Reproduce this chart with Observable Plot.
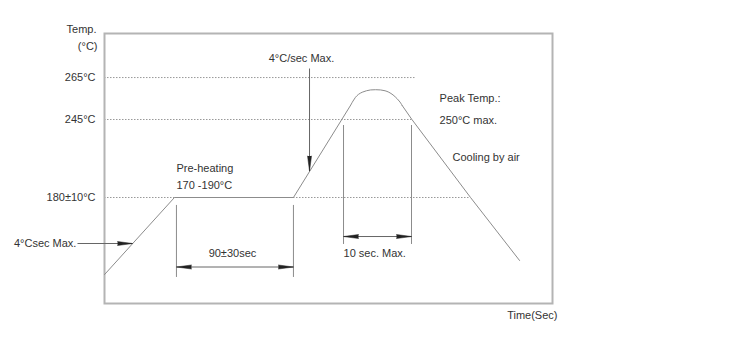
<!DOCTYPE html>
<html><head><meta charset="utf-8">
<script src="https://cdn.jsdelivr.net/npm/d3@7"></script>
<script src="https://cdn.jsdelivr.net/npm/@observablehq/plot@0.6"></script>
<style>body{margin:0;background:#fff}</style>
</head><body><div id="chart"></div>
<script>
// Reflow profile (schematic): time units and temperatures
const riseTime = [0, 53.1, 143.4, 186.7];
const riseTemp = [116, 180, 180, 251.7];
const capTime = [186.7, 188.6, 190.5, 192.8, 195.6, 198.8, 201.9, 205.7, 209.5, 212.9, 215.8, 219.0, 222.1, 224.3, 225.9];
const capTemp = [251.7, 253.8, 255.6, 257.0, 258.0, 258.7, 259.1, 259.2, 259.1, 258.7, 258.0, 256.7, 254.9, 253.3, 251.7];
const coolTime = [225.9, 233.3, 277.8, 315];
const coolTemp = [251.7, 245, 180, 127.7];

// temperature ticks and dotted guide lines
const tickTemps = [180, 245, 265];
const tickLabels = ["180±10°C", "245°C", "265°C"];
const guideEnd = [277.8, 233.3, 236.0];

// dimension lines (vertical extension lines)
const dimTime = [54.6, 143.4, 181.4, 233.0];
const dimTop = [173.4, 173.4, 240, 240];
const dimBottom = [113.6, 113.6, 141, 141];

// arrow shafts
const shaftX1 = [-20.5, 54.6, 181.4, 155.6];
const shaftY1 = [141.8, 122.3, 147.6, 269.3];
const shaftX2 = [21.3, 143.4, 233.0, 155.6];
const shaftY2 = [141.8, 122.3, 147.6, 202];

// arrowheads (tip positions and direction in degrees)
const headTime = [21.3, 54.6, 143.4, 155.6, 181.4, 233.0];
const headTemp = [141.8, 122.3, 122.3, 202, 147.6, 147.6];
const headDir = [90, 270, 90, 180, 270, 90];

// annotations
const noteText = ["Pre-heating", "170 -190°C", "90±30sec", "4°C/sec Max.", "10 sec. Max.", "Peak Temp.:", "250°C max.", "Cooling by air", "4°Csec Max."];
const noteTime = [54.6, 54.6, 97.1, 149.5, 181.4, 254.3, 254.3, 264.1, -21.3];
const noteTemp = [204.2, 190, 133.5, 274, 133.5, 255, 244.2, 213.3, 141.8];
const noteAnchor = ["start", "start", "middle", "middle", "start", "start", "start", "start", "end"];

// the temperature axis of the drawing is not to scale: breakpoints of the axis
const axisTemps = [92, 180, 245, 286];
const axisLevels = [0, 106, 184, 270];

const zip = (a, b) => a.map((v, i) => ({t: v, temp: b[i]}));
const rise = zip(riseTime, riseTemp);
const cap = zip(capTime, capTemp);
const cool = zip(coolTime, coolTemp);
const guides = tickTemps.map((v, i) => ({temp: v, end: guideEnd[i], label: tickLabels[i]}));
const dims = dimTime.map((v, i) => ({t: v, y1: dimTop[i], y2: dimBottom[i]}));
const shafts = shaftX1.map((v, i) => ({x1: v, y1: shaftY1[i], x2: shaftX2[i], y2: shaftY2[i]}));
const heads = headTime.map((v, i) => ({t: v, temp: headTemp[i], dir: headDir[i]}));
const notes = noteText.map((s, i) => ({s, t: noteTime[i], temp: noteTemp[i], a: noteAnchor[i]}));

const lineColor = "#8c8c8c";
const textColor = "#333";
const font = 11;
const warp = d3.scaleLinear(axisTemps, axisLevels);

const noteMark = (anchor) => Plot.text(notes, {filter: d => d.a === anchor, x: "t", y: "temp", text: "s", textAnchor: anchor, fontSize: font, fill: textColor});

const chart = Plot.plot({
  width: 750,
  height: 353,
  marginLeft: 104,
  marginRight: 198,
  marginTop: 33,
  marginBottom: 50,
  style: {fontFamily: "'Liberation Sans', Arial, sans-serif", fontSize: "11px", color: textColor, background: "#fff"},
  x: {domain: [0, 340], range: [104, 552], axis: null},
  y: {transform: warp, domain: [0, 270], range: [303, 33], axis: null},
  marks: [
    Plot.ruleY(guides, {y: "temp", x1: 0, x2: "end", stroke: "#999", strokeWidth: 1, strokeDasharray: "1.5,1.5"}),
    Plot.frame({stroke: "#b4b4b4", strokeWidth: 2}),
    Plot.text(guides, {x: 0, y: "temp", text: "label", dx: -9, textAnchor: "end", fontSize: font, fill: textColor}),
    Plot.line(rise, {x: "t", y: "temp", stroke: lineColor, strokeWidth: 1}),
    Plot.line(cap, {x: "t", y: "temp", stroke: lineColor, strokeWidth: 1, curve: "catmull-rom"}),
    Plot.line(cool, {x: "t", y: "temp", stroke: lineColor, strokeWidth: 1}),
    Plot.ruleX(dims, {x: "t", y1: "y1", y2: "y2", stroke: lineColor, strokeWidth: 1}),
    Plot.link(shafts, {x1: "x1", y1: "y1", x2: "x2", y2: "y2", stroke: "#666", strokeWidth: 1}),
    Plot.vector(heads, {x: "t", y: "temp", rotate: "dir", length: 15, r: 2, shape: "spike", anchor: "end", fill: "#222", stroke: "#222", strokeWidth: 0.5}),
    noteMark("start"),
    noteMark("middle"),
    noteMark("end"),
    Plot.text(["Temp."], {frameAnchor: "top-left", dx: -8, dy: -8, textAnchor: "end", fontSize: font, fill: textColor}),
    Plot.text(["(°C)"], {frameAnchor: "top-left", dx: -7, dy: 9, textAnchor: "end", fontSize: font, fill: textColor}),
    Plot.text(["Time(Sec)"], {frameAnchor: "bottom-right", dx: 5, dy: 15, textAnchor: "end", fontSize: font, fill: textColor})
  ]
});
document.getElementById("chart").append(chart);
</script>
</body></html>
